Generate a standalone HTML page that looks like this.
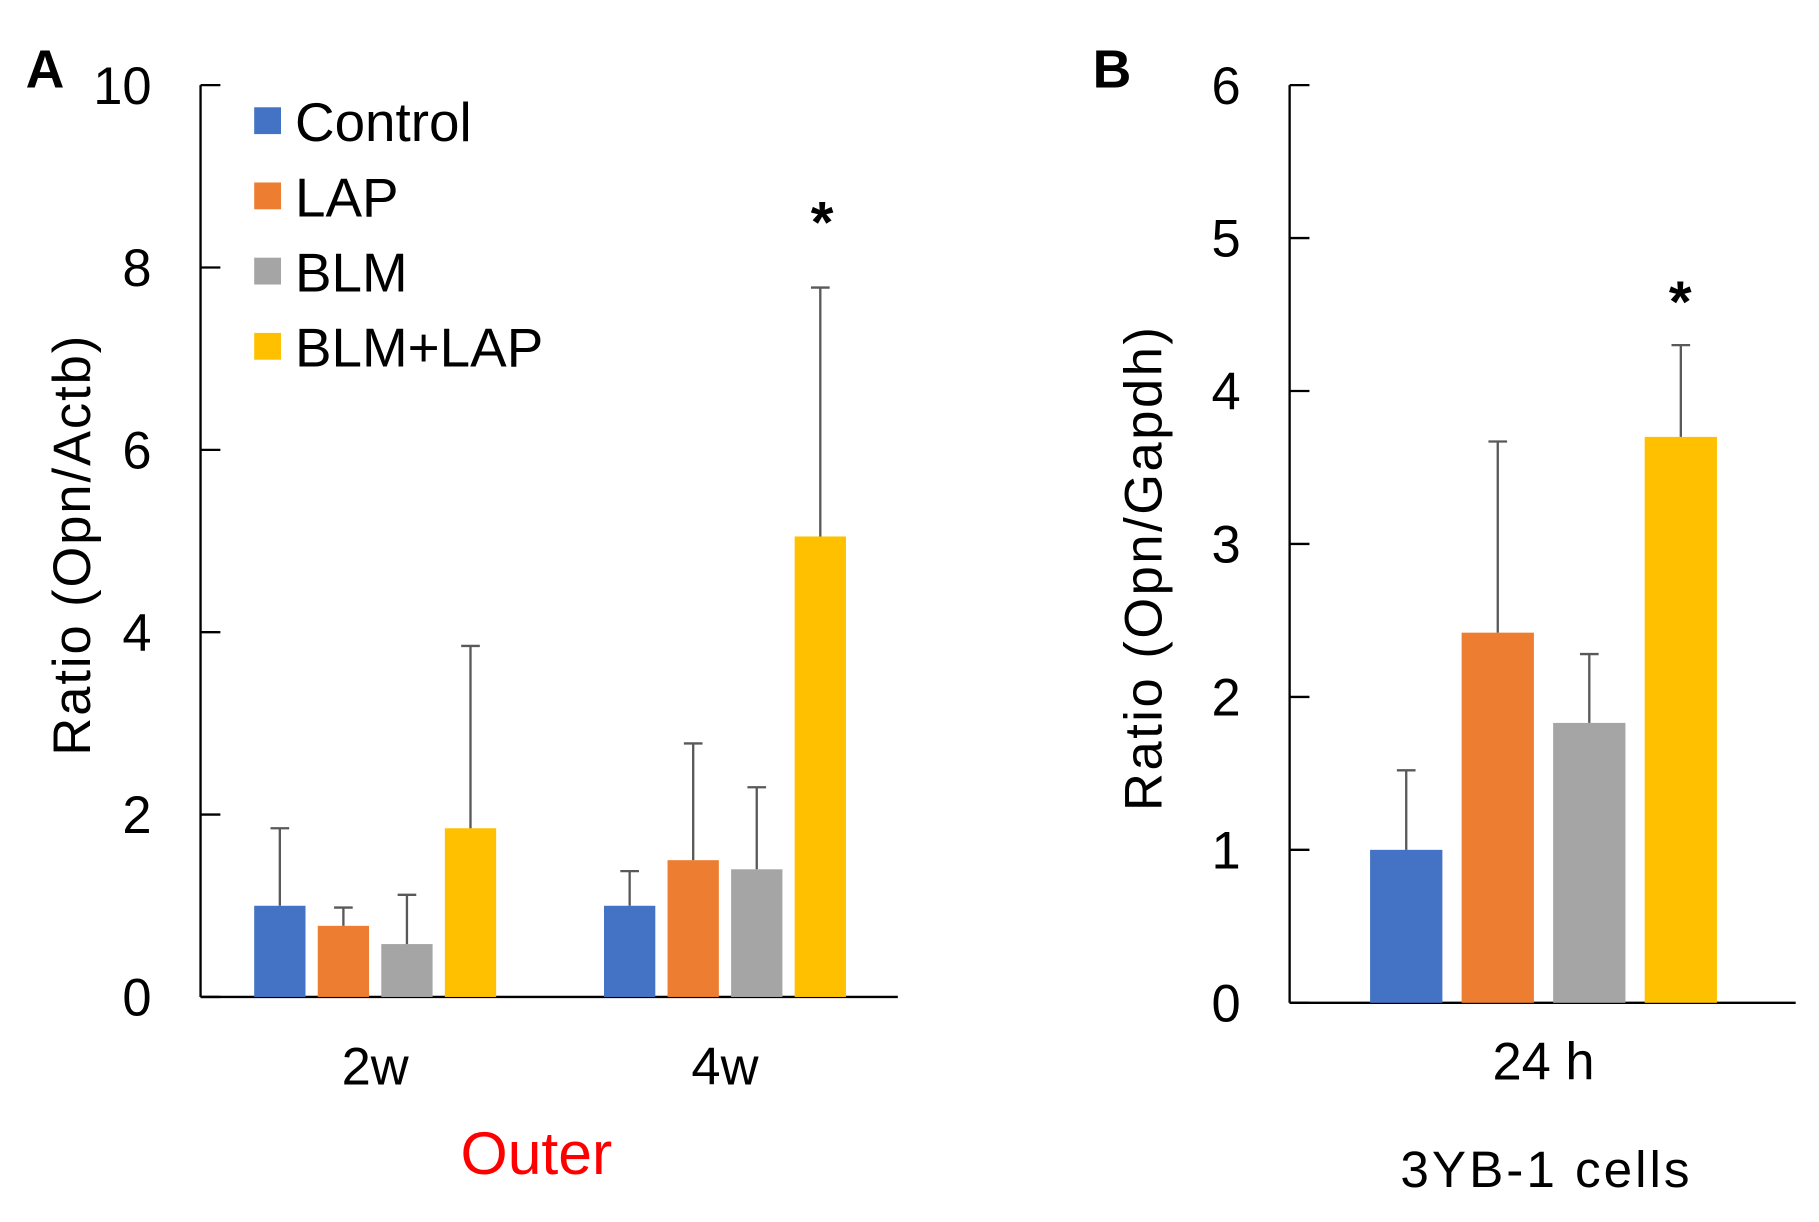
<!DOCTYPE html>
<html><head><meta charset="utf-8"><style>
html,body{margin:0;padding:0;background:#fff;}
svg{display:block;font-family:"Liberation Sans",Arial,sans-serif;}
</style></head><body>
<svg id="chart" width="1819" height="1222" viewBox="0 0 1560 1048" xmlns="http://www.w3.org/2000/svg"></svg>
<script>
const seriesNames = ["Control","LAP","BLM","BLM+LAP"];
const colors = ["#4472C4","#ED7D31","#A5A5A5","#FFC000"];
const catsA = ["2w","4w"];
const meanA_2w = [1.0,0.78,0.58,1.85];
const errA_2w = [1.85,0.98,1.12,3.85];
const meanA_4w = [1.0,1.5,1.4,5.05];
const errA_4w = [1.38,2.78,2.3,7.78];
const ticksA = [0,2,4,6,8,10];
const catsB = ["24 h"];
const meanB = [1.0,2.42,1.83,3.7];
const errB = [1.52,3.67,2.28,4.3];
const ticksB = [0,1,2,3,4,5,6];

const svg=document.getElementById('chart');
const NS="http://www.w3.org/2000/svg";
function mk(tag,attrs,txt){const e=document.createElementNS(NS,tag);for(const k in attrs)e.setAttribute(k,attrs[k]);if(txt!==undefined)e.textContent=txt;svg.appendChild(e);return e;}

function panel(o){
  const y=v=>o.y0+(o.yTop-o.y0)*(v/o.max);
  let e=mk('line',{x1:o.ax,y1:o.yTop,x2:o.ax,y2:o.y0,stroke:'#000','stroke-width':2});
  
  
  e=mk('line',{x1:o.ax,y1:o.y0,x2:o.axEnd,y2:o.y0,stroke:'#000','stroke-width':2});
  
  
  o.ticks.forEach(t=>{
    let l=mk('line',{x1:o.ax,y1:y(t),x2:o.ax+17,y2:y(t),stroke:'#000','stroke-width':2});
    
    
    let tx=mk('text',{x:o.tickX,y:y(t)+16,'text-anchor':'end','font-size':45},String(t));
    
    
  });
  o.groups.forEach((g,gi)=>{
    g.means.forEach((m,i)=>{
      const x=g.start+i*o.step;
      let r=mk('rect',{x:x,y:y(m),width:o.bw,height:o.y0-y(m),fill:colors[i]});
      
      
      const cx=x+o.bw/2;
      let el=mk('line',{x1:cx,y1:y(m),x2:cx,y2:y(g.errs[i]),stroke:'#595959','stroke-width':2});
      
      
      let ec=mk('line',{x1:cx-8,y1:y(g.errs[i]),x2:cx+8,y2:y(g.errs[i]),stroke:'#595959','stroke-width':2});
      
      
    });
    let cl=mk('text',{x:g.start+(o.step*3+o.bw)/2,y:o.catY,'text-anchor':'middle','font-size':45},g.cat);
    
    
  });
  return y;
}

const yA=panel({id:'panel-a',ax:172,axEnd:770,y0:855,yTop:73,max:10,ticks:ticksA,tickX:130,bw:44,step:54.5,catY:930,
  groups:[{cat:catsA[0],start:218,means:meanA_2w,errs:errA_2w},{cat:catsA[1],start:518,means:meanA_4w,errs:errA_4w}]});
const yB=panel({id:'panel-b',ax:1106,axEnd:1540,y0:860,yTop:73,max:6,ticks:ticksB,tickX:1064,bw:62,step:78.5,catY:926,
  groups:[{cat:catsB[0],start:1175,means:meanB,errs:errB}]});

let t;
t=mk('text',{x:22,y:75,'font-size':46,'font-weight':'bold'},'A');


t=mk('text',{x:937,y:75,'font-size':46,'font-weight':'bold'},'B');


t=mk('text',{x:0,y:0,'font-size':45,'text-anchor':'middle',textLength:360,transform:'translate(77,468) rotate(-90)'},'Ratio (Opn/Actb)');


t=mk('text',{x:0,y:0,'font-size':45,'text-anchor':'middle',textLength:415,transform:'translate(996,488) rotate(-90)'},'Ratio (Opn/Gapdh)');


t=mk('text',{x:460,y:1007,'font-size':52,'text-anchor':'middle',fill:'#FF0000'},'Outer');


t=mk('text',{x:1325,y:1018,'font-size':44,'text-anchor':'middle',textLength:248},'3YB-1 cells');


t=mk('text',{x:705,y:208,'font-size':50,'font-weight':'bold','text-anchor':'middle'},'*');


t=mk('text',{x:1441,y:276,'font-size':50,'font-weight':'bold','text-anchor':'middle'},'*');



seriesNames.forEach((n,i)=>{
  const ly=104+i*64.5;
  let r=mk('rect',{x:218,y:ly-12,width:23,height:23,fill:colors[i]});
  
  
  let lt=mk('text',{x:253,y:ly+17,'font-size':47},n);
  
  
});
</script>
</body></html>
